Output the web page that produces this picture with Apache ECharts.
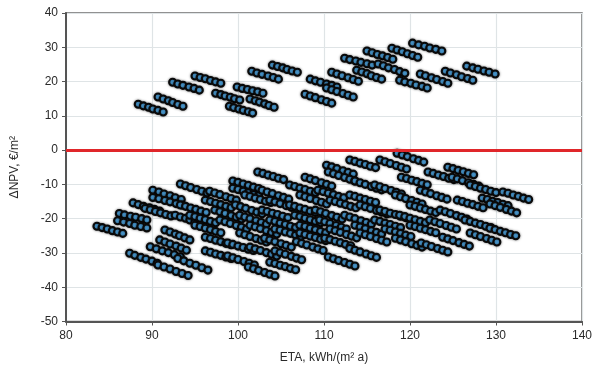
<!DOCTYPE html>
<html>
<head>
<meta charset="utf-8">
<script src="https://cdn.jsdelivr.net/npm/echarts@6/dist/echarts.min.js"></script>
<style>
  html, body { margin: 0; padding: 0; background: #ffffff; }
  #chart { width: 599px; height: 369px; }
</style>
</head>
<body>
<div id="chart"></div>
<script>
// Axis ranges and tick step
const etaRange = [80, 140];
const etaStep = 10;
const npvRange = [-50, 40];
const npvStep = 10;
const breakEven = 0;

// Variants with positive ΔNPV, one row per run of points [ETA, ΔNPV]
const upperRuns = [
  [[88.4,13.4],[89.0,12.9],[89.6,12.5],[90.1,12.0],[90.7,11.6],[91.3,11.1]],
  [[90.7,15.5],[91.3,14.9],[91.9,14.4],[92.4,13.9],[93.0,13.3],[93.6,12.8]],
  [[92.4,19.8],[93.0,19.3],[93.6,18.9],[94.3,18.4],[94.9,18.0],[95.5,17.5]],
  [[95.0,21.6],[95.6,21.2],[96.2,20.8],[96.8,20.3],[97.4,19.9],[98.0,19.5]],
  [[97.4,16.6],[98.0,16.2],[98.5,15.8],[99.1,15.4],[99.6,15.0],[100.2,14.6]],
  [[99.0,12.8],[99.5,12.4],[100.1,12.0],[100.6,11.6],[101.2,11.2],[101.7,10.8]],
  [[99.9,18.4],[100.5,18.0],[101.1,17.7],[101.7,17.3],[102.3,17.0],[102.9,16.6]],
  [[101.4,14.9],[102.0,14.4],[102.5,14.0],[103.1,13.5],[103.6,13.0],[104.2,12.5]],
  [[101.6,23.0],[102.2,22.5],[102.8,22.1],[103.5,21.6],[104.1,21.2],[104.7,20.7]],
  [[104.0,24.8],[104.6,24.4],[105.2,24.0],[105.7,23.5],[106.3,23.1],[106.9,22.7]],
  [[107.8,16.3],[108.4,15.8],[109.0,15.3],[109.7,14.7],[110.3,14.2],[110.9,13.7]],
  [[108.4,20.7],[109.0,20.2],[109.6,19.8],[110.3,19.3],[110.9,18.9],[111.5,18.4]],
  [[110.3,18.1],[110.9,17.6],[111.5,17.1],[112.2,16.5],[112.8,16.0],[113.4,15.5]],
  [[110.9,22.7],[111.5,22.2],[112.1,21.7],[112.8,21.1],[113.4,20.6],[114.0,20.1]],
  [[112.4,26.8],[113.0,26.4],[113.7,26.0],[114.3,25.6],[115.0,25.2],[115.6,24.8]],
  [[113.8,23.3],[114.4,22.8],[115.0,22.3],[115.5,21.7],[116.1,21.2],[116.7,20.7]],
  [[115.0,28.9],[115.6,28.4],[116.2,27.9],[116.8,27.5],[117.4,27.0],[118.0,26.5]],
  [[116.3,25.1],[116.9,24.6],[117.5,24.0],[118.2,23.5],[118.8,22.9],[119.4,22.4]],
  [[117.9,29.7],[118.5,29.2],[119.1,28.7],[119.7,28.1],[120.3,27.6],[120.9,27.1]],
  [[118.8,20.4],[119.4,19.9],[120.1,19.5],[120.7,19.0],[121.4,18.6],[122.0,18.1]],
  [[120.3,31.2],[121.0,30.7],[121.7,30.3],[122.3,29.8],[123.0,29.4],[123.7,28.9]],
  [[121.2,22.2],[121.8,21.7],[122.5,21.1],[123.1,20.6],[123.8,20.0],[124.4,19.5]],
  [[124.1,23.0],[124.7,22.5],[125.4,22.0],[126.0,21.4],[126.7,20.9],[127.3,20.4]],
  [[126.6,24.5],[127.3,24.0],[127.9,23.6],[128.6,23.1],[129.2,22.7],[129.9,22.2]]
];

// Variants with negative ΔNPV
const lowerRuns = [
  [[83.6,-22.2],[84.2,-22.6],[84.8,-23.0],[85.4,-23.5],[86.0,-23.9],[86.6,-24.3]],
  [[86.2,-18.5],[86.8,-18.9],[87.5,-19.3],[88.1,-19.6],[88.8,-20.0],[89.4,-20.4]],
  [[86.0,-20.6],[86.7,-21.0],[87.4,-21.4],[88.0,-21.9],[88.7,-22.3],[89.4,-22.7]],
  [[87.8,-15.4],[88.4,-15.9],[89.0,-16.4],[89.7,-16.8],[90.3,-17.3],[90.9,-17.8]],
  [[89.2,-17.0],[89.8,-17.4],[90.4,-17.9],[91.0,-18.3],[91.6,-18.8],[92.2,-19.2]],
  [[90.1,-11.7],[90.8,-12.2],[91.4,-12.8],[92.1,-13.3],[92.7,-13.9],[93.4,-14.4]],
  [[90.1,-13.8],[90.8,-14.2],[91.5,-14.7],[92.1,-15.1],[92.8,-15.6],[93.5,-16.0]],
  [[93.3,-9.9],[93.9,-10.4],[94.5,-10.9],[95.2,-11.5],[95.8,-12.0],[96.4,-12.5]],
  [[92.7,-19.0],[93.3,-19.5],[93.9,-19.9],[94.4,-20.4],[95.0,-20.8],[95.6,-21.3]],
  [[87.4,-30.1],[88.0,-30.7],[88.7,-31.3],[89.3,-31.8],[90.0,-32.4],[90.6,-33.0]],
  [[89.8,-28.2],[90.5,-28.8],[91.2,-29.4],[91.9,-29.9],[92.6,-30.5],[93.3,-31.1]],
  [[90.9,-26.2],[91.5,-26.8],[92.1,-27.4],[92.8,-28.0],[93.4,-28.6],[94.0,-29.2]],
  [[90.7,-33.5],[91.4,-34.1],[92.1,-34.7],[92.8,-35.4],[93.5,-36.0],[94.2,-36.6]],
  [[93.0,-31.6],[93.7,-32.3],[94.4,-33.0],[95.1,-33.6],[95.8,-34.3],[96.5,-35.0]],
  [[91.5,-23.3],[92.1,-23.9],[92.7,-24.5],[93.2,-25.0],[93.8,-25.6],[94.4,-26.2]],
  [[118.5,-0.9],[119.1,-1.4],[119.7,-1.9],[120.4,-2.5],[121.0,-3.0],[121.6,-3.5]],
  [[113.0,-2.9],[113.6,-3.3],[114.2,-3.8],[114.8,-4.2],[115.4,-4.7],[116.0,-5.1]],
  [[116.5,-2.9],[117.1,-3.4],[117.7,-3.9],[118.4,-4.5],[119.0,-5.0],[119.6,-5.5]],
  [[110.3,-4.4],[110.9,-4.9],[111.5,-5.4],[112.2,-6.0],[112.8,-6.5],[113.4,-7.0]],
  [[124.4,-5.0],[125.0,-5.4],[125.6,-5.9],[126.2,-6.3],[126.8,-6.8],[127.4,-7.2]],
  [[102.3,-6.4],[102.9,-6.8],[103.5,-7.3],[104.1,-7.7],[104.7,-8.2],[105.3,-8.6]],
  [[110.5,-6.4],[111.1,-6.9],[111.7,-7.4],[112.4,-8.0],[113.0,-8.5],[113.6,-9.0]],
  [[122.1,-6.4],[122.7,-6.8],[123.3,-7.3],[123.9,-7.7],[124.5,-8.2],[125.1,-8.6]],
  [[107.8,-7.9],[108.4,-8.4],[109.0,-8.9],[109.7,-9.5],[110.3,-10.0],[110.9,-10.5]],
  [[119.0,-7.9],[119.6,-8.3],[120.2,-8.8],[120.8,-9.2],[121.4,-9.7],[122.0,-10.1]],
  [[124.9,-7.9],[125.5,-8.4],[126.1,-8.9],[126.8,-9.5],[127.4,-10.0],[128.0,-10.5]],
  [[99.4,-9.0],[100.0,-9.4],[100.6,-9.9],[101.2,-10.3],[101.8,-10.8],[102.4,-11.2]],
  [[113.6,-9.0],[114.2,-9.5],[114.8,-10.0],[115.5,-10.6],[116.1,-11.1],[116.7,-11.6]],
  [[106.0,-10.2],[106.6,-10.6],[107.2,-11.1],[107.8,-11.5],[108.4,-12.0],[109.0,-12.4]],
  [[115.9,-10.2],[116.5,-10.7],[117.1,-11.2],[117.8,-11.8],[118.4,-12.3],[119.0,-12.8]],
  [[127.0,-10.2],[127.6,-10.6],[128.2,-11.1],[128.8,-11.5],[129.4,-12.0],[130.0,-12.4]],
  [[96.7,-12.0],[97.3,-12.5],[97.9,-13.0],[98.6,-13.6],[99.2,-14.1],[99.8,-14.6]],
  [[99.4,-11.1],[100.0,-11.5],[100.6,-12.0],[101.2,-12.4],[101.8,-12.9],[102.4,-13.3]],
  [[102.8,-11.7],[103.4,-12.2],[104.0,-12.7],[104.7,-13.3],[105.3,-13.8],[105.9,-14.3]],
  [[109.3,-11.7],[109.9,-12.1],[110.5,-12.6],[111.1,-13.0],[111.7,-13.5],[112.3,-13.9]],
  [[121.2,-11.7],[121.8,-12.2],[122.4,-12.7],[123.1,-13.3],[123.7,-13.8],[124.3,-14.3]],
  [[130.8,-12.2],[131.4,-12.6],[132.0,-13.1],[132.6,-13.5],[133.2,-14.0],[133.8,-14.4]],
  [[100.8,-13.1],[101.4,-13.5],[102.0,-14.0],[102.6,-14.4],[103.2,-14.9],[103.8,-15.3]],
  [[107.2,-13.1],[107.8,-13.6],[108.4,-14.1],[109.1,-14.7],[109.7,-15.2],[110.3,-15.7]],
  [[113.0,-13.1],[113.6,-13.5],[114.2,-14.0],[114.8,-14.4],[115.4,-14.9],[116.0,-15.3]],
  [[118.3,-13.1],[118.9,-13.6],[119.5,-14.1],[120.2,-14.7],[120.8,-15.2],[121.4,-15.7]],
  [[128.4,-14.0],[129.0,-14.4],[129.6,-14.9],[130.2,-15.3],[130.8,-15.8],[131.4,-16.2]],
  [[96.2,-14.6],[96.8,-15.0],[97.4,-15.5],[98.0,-15.9],[98.6,-16.4],[99.2,-16.8]],
  [[103.7,-14.6],[104.3,-15.1],[104.9,-15.6],[105.6,-16.2],[106.2,-16.7],[106.8,-17.2]],
  [[110.7,-14.6],[111.3,-15.0],[111.9,-15.5],[112.5,-15.9],[113.1,-16.4],[113.7,-16.8]],
  [[125.5,-14.6],[126.1,-15.0],[126.7,-15.5],[127.3,-15.9],[127.9,-16.4],[128.5,-16.8]],
  [[129.3,-15.7],[129.9,-16.2],[130.5,-16.7],[131.2,-17.3],[131.8,-17.8],[132.4,-18.3]],
  [[93.3,-16.0],[93.9,-16.4],[94.5,-16.9],[95.1,-17.3],[95.7,-17.8],[96.3,-18.2]],
  [[99.7,-16.0],[100.3,-16.5],[100.9,-17.0],[101.6,-17.6],[102.2,-18.1],[102.8,-18.6]],
  [[106.0,-16.0],[106.6,-16.4],[107.2,-16.9],[107.8,-17.3],[108.4,-17.8],[109.0,-18.2]],
  [[114.2,-16.0],[114.8,-16.5],[115.4,-17.0],[116.1,-17.6],[116.7,-18.1],[117.3,-18.6]],
  [[120.0,-16.0],[120.6,-16.4],[121.2,-16.9],[121.8,-17.3],[122.4,-17.8],[123.0,-18.2]],
  [[97.3,-17.5],[97.9,-18.0],[98.5,-18.5],[99.2,-19.1],[99.8,-19.6],[100.4,-20.1]],
  [[102.8,-17.5],[103.4,-17.9],[104.0,-18.4],[104.6,-18.8],[105.2,-19.3],[105.8,-19.7]],
  [[109.0,-17.5],[109.6,-18.0],[110.2,-18.5],[110.9,-19.1],[111.5,-19.6],[112.1,-20.1]],
  [[116.5,-17.5],[117.1,-17.9],[117.7,-18.4],[118.3,-18.8],[118.9,-19.3],[119.5,-19.7]],
  [[123.5,-17.5],[124.1,-18.0],[124.7,-18.5],[125.4,-19.1],[126.0,-19.6],[126.6,-20.1]],
  [[94.4,-19.0],[95.0,-19.4],[95.6,-19.9],[96.2,-20.3],[96.8,-20.8],[97.4,-21.2]],
  [[100.2,-19.0],[100.8,-19.5],[101.4,-20.0],[102.1,-20.6],[102.7,-21.1],[103.3,-21.6]],
  [[106.6,-19.0],[107.2,-19.4],[107.8,-19.9],[108.4,-20.3],[109.0,-20.8],[109.6,-21.2]],
  [[112.4,-19.0],[113.0,-19.5],[113.6,-20.0],[114.3,-20.6],[114.9,-21.1],[115.5,-21.6]],
  [[118.8,-19.0],[119.4,-19.4],[120.0,-19.9],[120.6,-20.3],[121.2,-20.8],[121.8,-21.2]],
  [[97.9,-20.4],[98.5,-20.9],[99.1,-21.4],[99.8,-22.0],[100.4,-22.5],[101.0,-23.0]],
  [[103.7,-20.4],[104.3,-20.8],[104.9,-21.3],[105.5,-21.7],[106.1,-22.2],[106.7,-22.6]],
  [[109.5,-20.4],[110.1,-20.9],[110.7,-21.4],[111.4,-22.0],[112.0,-22.5],[112.6,-23.0]],
  [[115.9,-20.4],[116.5,-20.8],[117.1,-21.3],[117.7,-21.7],[118.3,-22.2],[118.9,-22.6]],
  [[122.3,-20.4],[122.9,-20.9],[123.5,-21.4],[124.2,-22.0],[124.8,-22.5],[125.4,-23.0]],
  [[126.4,-20.4],[127.0,-20.8],[127.6,-21.3],[128.2,-21.7],[128.8,-22.2],[129.4,-22.6]],
  [[95.0,-21.9],[95.6,-22.3],[96.2,-22.8],[96.8,-23.2],[97.4,-23.7],[98.0,-24.1]],
  [[101.4,-21.9],[102.0,-22.4],[102.6,-22.9],[103.3,-23.5],[103.9,-24.0],[104.5,-24.5]],
  [[107.2,-21.9],[107.8,-22.3],[108.4,-22.8],[109.0,-23.2],[109.6,-23.7],[110.2,-24.1]],
  [[113.6,-21.9],[114.2,-22.4],[114.8,-22.9],[115.5,-23.5],[116.1,-24.0],[116.7,-24.5]],
  [[120.0,-21.9],[120.6,-22.3],[121.2,-22.8],[121.8,-23.2],[122.4,-23.7],[123.0,-24.1]],
  [[104.3,-23.0],[104.9,-23.4],[105.5,-23.9],[106.1,-24.3],[106.7,-24.8],[107.3,-25.2]],
  [[110.7,-23.0],[111.3,-23.5],[111.9,-24.0],[112.6,-24.6],[113.2,-25.1],[113.8,-25.6]],
  [[117.1,-23.0],[117.7,-23.4],[118.3,-23.9],[118.9,-24.3],[119.5,-24.8],[120.1,-25.2]],
  [[127.0,-24.2],[127.6,-24.7],[128.2,-25.2],[128.9,-25.8],[129.5,-26.3],[130.1,-26.8]],
  [[129.3,-22.8],[129.9,-23.2],[130.5,-23.7],[131.1,-24.1],[131.7,-24.6],[132.3,-25.0]],
  [[100.2,-24.2],[100.8,-24.7],[101.4,-25.2],[102.1,-25.8],[102.7,-26.3],[103.3,-26.8]],
  [[107.2,-24.2],[107.8,-24.6],[108.4,-25.1],[109.0,-25.5],[109.6,-26.0],[110.2,-26.4]],
  [[114.2,-24.2],[114.8,-24.7],[115.4,-25.2],[116.1,-25.8],[116.7,-26.3],[117.3,-26.8]],
  [[96.2,-25.4],[96.8,-25.8],[97.4,-26.3],[98.0,-26.7],[98.6,-27.2],[99.2,-27.6]],
  [[123.8,-25.4],[124.4,-25.9],[125.0,-26.4],[125.7,-27.0],[126.3,-27.5],[126.9,-28.0]],
  [[103.1,-25.7],[103.7,-26.2],[104.3,-26.7],[105.0,-27.3],[105.6,-27.8],[106.2,-28.3]],
  [[110.1,-25.7],[110.7,-26.1],[111.3,-26.6],[111.9,-27.0],[112.5,-27.5],[113.1,-27.9]],
  [[118.3,-25.7],[118.9,-26.2],[119.5,-26.7],[120.2,-27.3],[120.8,-27.8],[121.4,-28.3]],
  [[98.8,-27.1],[99.4,-27.5],[100.0,-28.0],[100.6,-28.4],[101.2,-28.9],[101.8,-29.3]],
  [[106.8,-26.7],[107.4,-27.2],[108.0,-27.7],[108.7,-28.3],[109.3,-28.8],[109.9,-29.3]],
  [[113.0,-28.7],[113.6,-29.2],[114.2,-29.7],[114.9,-30.3],[115.5,-30.8],[116.1,-31.3]],
  [[121.3,-27.1],[121.9,-27.6],[122.5,-28.1],[123.2,-28.7],[123.8,-29.2],[124.4,-29.7]],
  [[101.4,-28.3],[102.0,-28.8],[102.6,-29.3],[103.3,-29.9],[103.9,-30.4],[104.5,-30.9]],
  [[96.2,-29.4],[96.8,-29.8],[97.4,-30.3],[98.0,-30.7],[98.6,-31.2],[99.2,-31.6]],
  [[104.3,-29.4],[104.9,-29.9],[105.5,-30.4],[106.2,-31.0],[106.8,-31.5],[107.4,-32.0]],
  [[110.5,-31.2],[111.1,-31.7],[111.7,-32.2],[112.4,-32.8],[113.0,-33.3],[113.6,-33.8]],
  [[98.8,-30.9],[99.4,-31.4],[100.0,-31.9],[100.7,-32.5],[101.3,-33.0],[101.9,-33.5]],
  [[103.7,-32.7],[104.3,-33.1],[104.9,-33.6],[105.5,-34.0],[106.1,-34.5],[106.7,-34.9]],
  [[101.2,-34.1],[101.8,-34.6],[102.4,-35.1],[103.1,-35.7],[103.7,-36.2],[104.3,-36.7]]
];

const points = [].concat(...upperRuns, ...lowerRuns);

const chart = echarts.init(document.getElementById('chart'), null, { renderer: 'canvas' });
const font = '"Liberation Sans", Arial, sans-serif';

chart.setOption({
  animation: false,
  backgroundColor: '#ffffff',
  grid: {
    left: 66, right: 17, top: 13, bottom: 47.5,
    show: true, borderColor: '#6e6e6e', borderWidth: 1.5, backgroundColor: 'transparent'
  },
  xAxis: {
    type: 'value',
    min: etaRange[0], max: etaRange[1], interval: etaStep,
    name: 'ETA, kWh/(m² a)',
    nameLocation: 'middle', nameGap: 30,
    nameTextStyle: { fontFamily: font, fontSize: 12, color: '#2a2a2a' },
    axisLine: { show: true, onZero: false, lineStyle: { color: '#555', width: 2 } },
    axisTick: { show: true, length: 4, lineStyle: { color: '#555' } },
    axisLabel: { fontFamily: font, fontSize: 12, color: '#2a2a2a', margin: 8 },
    splitLine: { show: true, lineStyle: { color: '#dfe4e6', width: 1.2 } }
  },
  yAxis: {
    type: 'value',
    min: npvRange[0], max: npvRange[1], interval: npvStep,
    name: 'ΔNPV, €/m²',
    nameLocation: 'middle', nameGap: 45, nameRotate: 90,
    nameTextStyle: { fontFamily: font, fontSize: 12, color: '#2a2a2a' },
    axisLine: { show: true, onZero: false, lineStyle: { color: '#555', width: 2 } },
    axisTick: { show: true, length: 4, lineStyle: { color: '#555' } },
    axisLabel: { fontFamily: font, fontSize: 12, color: '#2a2a2a', margin: 8 },
    splitLine: { show: true, lineStyle: { color: '#dfe4e6', width: 1.2 } }
  },
  series: [
    {
      type: 'scatter',
      data: points,
      symbol: 'circle',
      symbolSize: 7,
      itemStyle: {
        color: '#4c9fd8', borderColor: '#0a0a0a', borderWidth: 2.1, opacity: 1,
        shadowColor: 'rgba(0,0,0,0.45)', shadowBlur: 2.5
      },
      z: 3
    },
    {
      type: 'line',
      data: [],
      z: 5,
      markLine: {
        silent: true,
        symbol: ['none', 'none'],
        label: { show: false },
        lineStyle: { color: '#e0262a', width: 3, type: 'solid' },
        data: [{ yAxis: breakEven }]
      }
    }
  ]
});
</script>
</body>
</html>
